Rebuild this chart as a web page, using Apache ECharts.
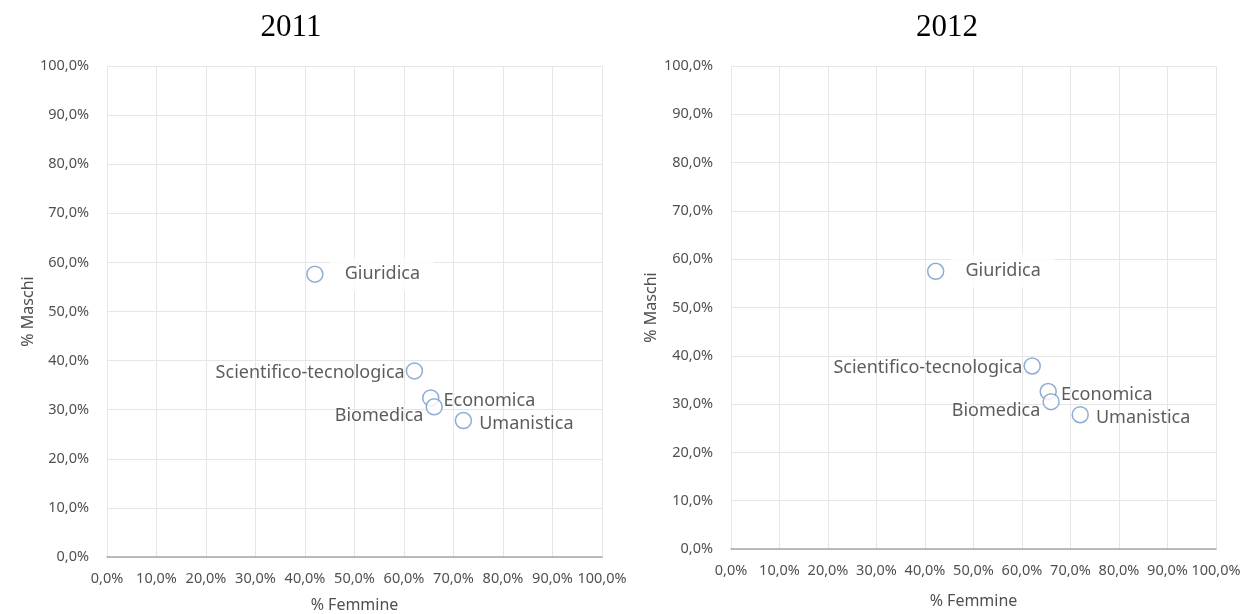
<!DOCTYPE html>
<html>
<head>
<meta charset="utf-8">
<script src="https://cdn.jsdelivr.net/npm/echarts@6/dist/echarts.min.js"></script>
<style>
html,body{margin:0;padding:0;background:#fff;}
#chart{width:1244px;height:614px;}
</style>
</head>
<body>
<div id="chart"></div>
<script>
// ---- data ----
const categories = ['Giuridica', 'Scientifico-tecnologica', 'Economica', 'Biomedica', 'Umanistica'];
const femmine2011 = [42.0, 62.1, 65.4, 66.1, 72.0];
const maschi2011  = [57.6, 37.9, 32.4, 30.6, 27.8];
const femmine2012 = [42.2, 62.1, 65.4, 66.0, 72.0];
const maschi2012  = [57.5, 37.9, 32.6, 30.5, 27.8];
const years = ['2011', '2012'];
const axisMin = 0, axisMax = 100, axisStep = 10;
const xAxisTitle = '% Femmine';
const yAxisTitle = '% Maschi';

// ---- styles ----
const labelStyle = [
  {position: 'right', distance: 6, offset: [0, 0], padding: [8, 14, 8, 15], backgroundColor: '#fff'},
  {position: 'left', distance: 1, offset: [0, 2], padding: 0},
  {position: 'right', distance: 4, offset: [0, 3], padding: 0},
  {position: 'left', distance: 2, offset: [0, 9], padding: 0},
  {position: 'right', distance: 7, offset: [0, 3], padding: 0}
];
const fmt = v => v.toFixed(1).replace('.', ',') + '%';
const labelColor = '#505050';
const gridColor = '#e6e6e6';

function buildData(xs, ys) {
  return categories.map((c, i) => ({
    name: c,
    value: [xs[i], ys[i]],
    label: Object.assign({show: true, formatter: '{b}', color: '#333333',
      fontFamily: 'Noto Sans', fontSize: 18}, labelStyle[i])
  }));
}

function xAx(gi, gap) {
  return {
    type: 'value', gridIndex: gi, min: axisMin, max: axisMax, interval: axisStep,
    name: xAxisTitle, nameLocation: 'middle', nameGap: gap,
    nameTextStyle: {color: labelColor, fontFamily: 'Noto Sans', fontSize: 16},
    axisLine: {show: true, onZero: false, lineStyle: {color: '#a6a6a6', width: 1.5}},
    axisTick: {show: false},
    axisLabel: {color: labelColor, fontFamily: 'Noto Sans', fontSize: 14.5, margin: 14, formatter: fmt, hideOverlap: false},
    splitLine: {show: true, lineStyle: {color: gridColor, width: 1}}
  };
}
function yAx(gi, gap) {
  return {
    type: 'value', gridIndex: gi, min: axisMin, max: axisMax, interval: axisStep,
    name: yAxisTitle, nameLocation: 'middle', nameGap: gap, nameRotate: 90,
    nameTextStyle: {color: labelColor, fontFamily: 'Noto Sans', fontSize: 16},
    axisLine: {show: false},
    axisTick: {show: false},
    axisLabel: {color: labelColor, fontFamily: 'Noto Sans', fontSize: 14.5, margin: 18, formatter: fmt},
    splitLine: {show: true, lineStyle: {color: gridColor, width: 1}}
  };
}

const chart = echarts.init(document.getElementById('chart'), null, {renderer: 'canvas'});
chart.setOption({
  backgroundColor: '#fff',
  animation: false,
  title: [
    {text: years[0], left: 286, top: 7, textAlign: 'center',
      textStyle: {fontFamily: 'Liberation Serif', fontSize: 31, fontWeight: 'normal', color: '#000'}},
    {text: years[1], left: 942, top: 7, textAlign: 'center',
      textStyle: {fontFamily: 'Liberation Serif', fontSize: 31, fontWeight: 'normal', color: '#000'}}
  ],
  grid: [
    {left: 107, top: 66, width: 495, height: 491, containLabel: false, outerBoundsMode: 'none'},
    {left: 731, top: 66, width: 485, height: 483, containLabel: false, outerBoundsMode: 'none'}
  ],
  xAxis: [xAx(0, 40), xAx(1, 44)],
  yAxis: [yAx(0, 58), yAx(1, 72)],
  series: [
    {type: 'scatter', xAxisIndex: 0, yAxisIndex: 0, symbol: 'circle', symbolSize: 16,
      itemStyle: {color: '#fff', borderColor: '#7399c6', borderWidth: 1.5},
      data: buildData(femmine2011, maschi2011)},
    {type: 'scatter', xAxisIndex: 1, yAxisIndex: 1, symbol: 'circle', symbolSize: 16,
      itemStyle: {color: '#fff', borderColor: '#7399c6', borderWidth: 1.5},
      data: buildData(femmine2012, maschi2012)}
  ]
});
</script>
</body>
</html>
